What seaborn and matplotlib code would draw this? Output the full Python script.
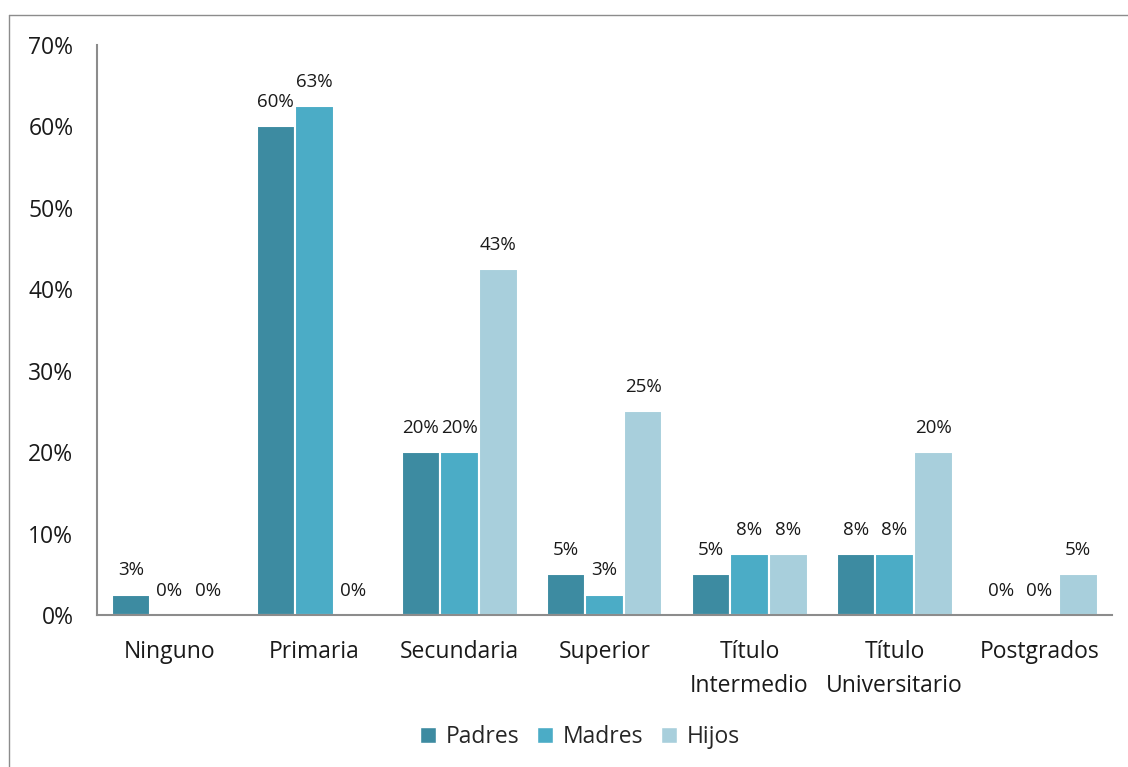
import math
import matplotlib
matplotlib.use("Agg")
import matplotlib.pyplot as plt
from matplotlib.patches import Patch
from matplotlib.lines import Line2D
import seaborn as sns
import pandas as pd

categories = ["Ninguno", "Primaria", "Secundaria", "Superior",
              "Título\nIntermedio", "Título\nUniversitario", "Postgrados"]
series = ["Padres", "Madres", "Hijos"]
padres = [2.5, 60, 20, 5, 5, 7.5, 0]
madres = [0, 62.5, 20, 2.5, 7.5, 7.5, 0]
hijos = [0, 0, 42.5, 25, 7.5, 20, 5]
yticks = [0, 10, 20, 30, 40, 50, 60, 70]
colors = ["#3D8BA1", "#4BACC6", "#A8CFDC"]

sns.set_theme(style="white")
plt.rcParams["font.family"] = ["Open Sans", "DejaVu Sans"]

rows = []
for name, vals in zip(series, [padres, madres, hijos]):
    for c, v in zip(categories, vals):
        rows.append({"cat": c, "serie": name, "val": v})
df = pd.DataFrame(rows)

fig = plt.figure(figsize=(11.28, 7.67), dpi=100)
ax = fig.add_axes([97/1128, 152/767, (1112-97)/1128, (615-45)/767])

sns.barplot(data=df, x="cat", y="val", hue="serie", order=categories,
            hue_order=series, palette=colors, errorbar=None, width=0.8,
            edgecolor="white", linewidth=1.5, saturation=1, ax=ax, legend=False)

for cont, vals in zip(ax.containers, [padres, madres, hijos]):
    labels = [f"{math.floor(v + 0.5)}%" for v in vals]
    ax.bar_label(cont, labels=labels, padding=11, fontsize=13.5, color="#1a1a1a")

ax.set_ylim(0, 70)
ax.set_xlim(-0.5, len(categories) - 0.5)
ax.set_yticks(yticks)
ax.set_yticklabels([f"{t}%" for t in yticks])
ax.tick_params(axis="y", length=0, pad=17, labelsize=16.5, labelcolor="#1a1a1a")
ax.tick_params(axis="x", length=0, pad=18, labelsize=16.5, labelcolor="#1a1a1a")
for lab in ax.get_xticklabels():
    lab.set_linespacing(1.55)
ax.set_xlabel("")
ax.set_ylabel("")
for s in ["top", "right"]:
    ax.spines[s].set_visible(False)
for s in ["left", "bottom"]:
    ax.spines[s].set_color("#8c8c8c")
    ax.spines[s].set_linewidth(1.5)

handles = [Patch(facecolor=c, edgecolor="white", label=s) for c, s in zip(colors, series)]
fig.legend(handles=handles, loc="center", bbox_to_anchor=(580/1128, 1 - 737/767),
           ncol=3, frameon=False, fontsize=16.5, handlelength=0.7, handleheight=0.7,
           handletextpad=0.4, columnspacing=0.8)

# figure border (left and top visible)
fig.add_artist(Line2D([9/1128, 9/1128], [0, 1 - 15/767], transform=fig.transFigure,
                      color="#8c8c8c", linewidth=1))
fig.add_artist(Line2D([9/1128, 1], [1 - 15/767, 1 - 15/767], transform=fig.transFigure,
                      color="#8c8c8c", linewidth=1))

fig.savefig("out.png", dpi=100)
